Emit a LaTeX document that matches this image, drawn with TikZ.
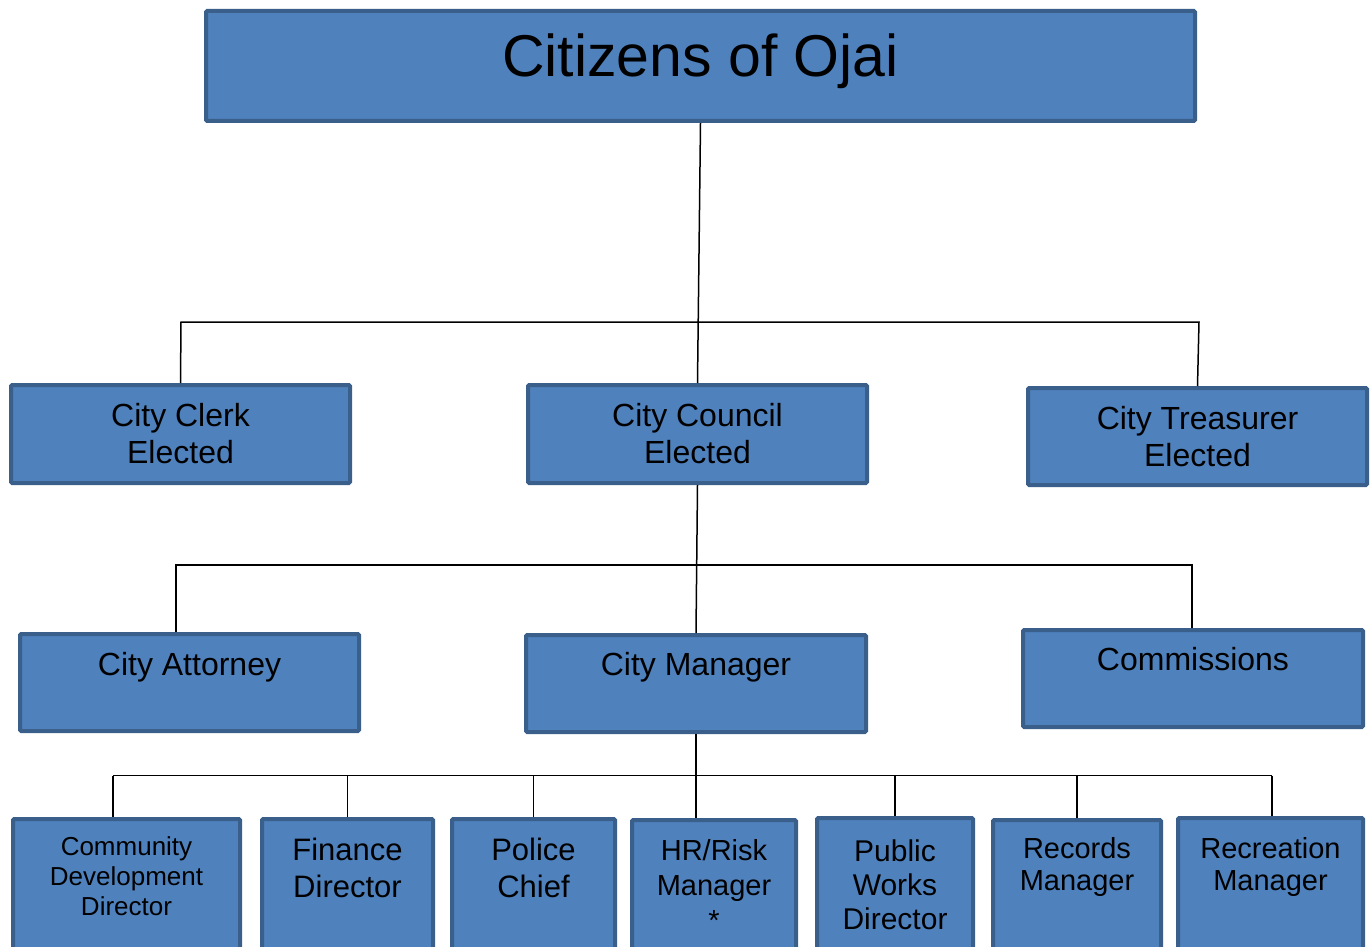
\documentclass[tikz,border=0pt]{standalone}
\usepackage{fontspec}
\setmainfont{Liberation Sans}
\usetikzlibrary{fit}
\definecolor{boxfill}{HTML}{4F81BD}
\definecolor{boxline}{HTML}{3A5F8B}

\begin{document}
\begin{tikzpicture}[x=0.5pt, y=-0.5pt,
    unit/.style={draw=boxline, fill=boxfill, line width=2pt, rounded corners=0.6pt, inner sep=-1pt},
    lbl/.style={inner sep=0pt, align=center, font=\fontsize{16}{18.5}\selectfont},
    wire/.style={line width=0.75pt}]

  \useasboundingbox (0,0) rectangle (1372,947);
  \clip (0,0) rectangle (1372,947);

  % boxes
  \node[unit, fit={(204,9) (1197,123)}] (cit) {};

  \node[unit, fit={(9,383) (352,485)}] (clerk) {};
  \node[unit, fit={(526,383) (869,485)}] (council) {};
  \node[unit, fit={(1026,386) (1369,487)}] (treas) {};

  \node[unit, fit={(18,632) (361,733)}] (atty) {};
  \node[unit, fit={(524,633) (868,734)}] (mgr) {};
  \node[unit, fit={(1021,628) (1365,729)}] (comm) {};

  \node[unit, fit={(11,817) (242,960)}] (cdd) {};
  \node[unit, fit={(260,817) (435,960)}] (fin) {};
  \node[unit, fit={(450,817) (617,960)}] (pol) {};
  \node[unit, fit={(630,818) (798,960)}] (hr) {};
  \node[unit, fit={(815,816) (975,960)}] (pw) {};
  \node[unit, fit={(991,818) (1163,960)}] (rec) {};
  \node[unit, fit={(1176,816) (1365,960)}] (rcn) {};

  % texts
  \node[lbl, anchor=base, font=\fontsize{29.5}{35}\selectfont] (cit-t) at (700.5,77) {Citizens of Ojai};

  \node[lbl] (clerk-t) at (clerk.center) {City Clerk\\Elected};
  \node[lbl] (council-t) at (council.center) {City Council\\Elected};
  \node[lbl] (treas-t) at (treas.center) {City Treasurer\\Elected};

  \node[lbl, anchor=base] (atty-t) at (189.5,675) {City Attorney};
  \node[lbl, anchor=base] (mgr-t) at (696,675) {City Manager};
  \node[lbl, anchor=base] (comm-t) at (1193,670) {Commissions};

  \node[lbl, anchor=north, font=\fontsize{13}{15}\selectfont] (cdd-t) at (126.5,836) {Community\\Development\\Director};
  \node[lbl, anchor=north, font=\fontsize{15.5}{18.5}\selectfont] (fin-t) at (347.5,838) {Finance\\Director};
  \node[lbl, anchor=north, font=\fontsize{15.5}{18.5}\selectfont] (pol-t) at (533.5,838) {Police\\Chief};
  \node[lbl, anchor=north, font=\fontsize{14.5}{17.5}\selectfont] (hr-t) at (714,839) {HR/Risk\\Manager\\*};
  \node[lbl, anchor=north, font=\fontsize{15}{17}\selectfont] (pw-t) at (895,839) {Public\\Works\\Director};
  \node[lbl, anchor=north, font=\fontsize{14.5}{16}\selectfont] (rec-t) at (1077,837) {Records\\Manager};
  \node[lbl, anchor=north, font=\fontsize{14.5}{16}\selectfont] (rcn-t) at (1270.5,837) {Recreation\\Manager};

  % connectors
  \coordinate (b1l) at (181,322);
  \coordinate (b1r) at (1199,322);
  \draw[wire] (cit.south) -- (council.north);
  \draw[wire] (clerk.north) -- (b1l) -- (b1r) -- (treas.north);

  \coordinate (b2l) at (176,565);
  \coordinate (b2r) at (1192,565);
  \draw[wire] (council.south) -- (mgr.north);
  \draw[wire] (atty.north -| b2l) -- (b2l) -- (b2r) -- (comm.north -| b2r);

  \coordinate (b3l) at (113,775.5);
  \coordinate (b3r) at (1272,775.5);
  \draw[wire] (b3l) -- (b3r);
  \draw[wire] (mgr.south) -- (mgr.south |- hr.north);
  \draw[wire] (b3l) -- (b3l |- cdd.north);
  \draw[wire] (fin.north) -- (fin.north |- b3l);
  \draw[wire] (pol.north) -- (pol.north |- b3l);
  \draw[wire] (pw.north) -- (pw.north |- b3l);
  \draw[wire] (rec.north) -- (rec.north |- b3l);
  \draw[wire] (b3r) -- (b3r |- rcn.north);

\end{tikzpicture}
\end{document}
